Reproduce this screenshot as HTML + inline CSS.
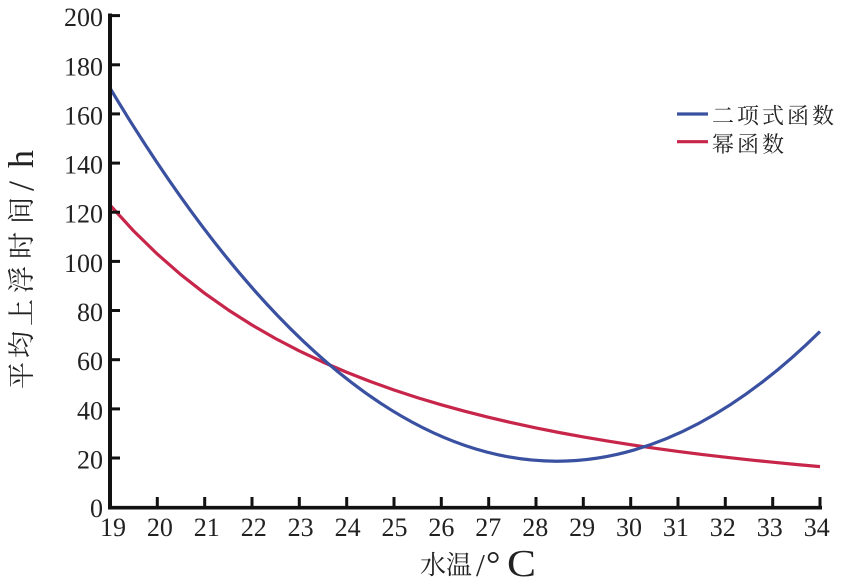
<!DOCTYPE html>
<html>
<head>
<meta charset="utf-8">
<style>
html,body{margin:0;padding:0;background:#fff;}
svg{display:block;}
</style>
</head>
<body>
<svg width="848" height="583" viewBox="0 0 848 583" xmlns="http://www.w3.org/2000/svg">
  <rect width="848" height="583" fill="#fff"/>

  <!-- curves in data coordinates -->
  <g transform="translate(110,507.2) scale(47.333,-2.458) translate(-19,0)" fill="none" stroke-linejoin="round" stroke-linecap="butt">
    <polyline vector-effect="non-scaling-stroke" stroke="#c7264a" stroke-width="3.2"
      points="19,122.9 19.5,112.37 20,102.97 20.5,94.56 21,87.02 21.5,80.23 22,74.11 22.5,68.58 23,63.58 23.5,59.03 24,54.89 24.5,51.12 25,47.68 25.5,44.53 26,41.65 26.5,39.00 27,36.56 27.5,34.32 28,32.25 28.5,30.34 29,28.57 29.5,26.94 30,25.42 30.5,24.01 31,22.70 31.5,21.48 32,20.35 32.5,19.29 33,18.30 33.5,17.37 34,16.51"/>
    <path vector-effect="non-scaling-stroke" stroke="#3a50a0" stroke-width="3.2" d="M19,170.5 Q26.5,-70.8 34,71.5"/>
  </g>

  <!-- axes -->
  <g stroke="#111" fill="none">
    <line x1="110" y1="13.5" x2="110" y2="509.5" stroke-width="4"/>
    <line x1="108" y1="507.7" x2="822" y2="507.7" stroke-width="3.6"/>
    <!-- y ticks -->
    <g stroke-width="3">
      <line x1="110" y1="15.6" x2="120" y2="15.6"/>
      <line x1="110" y1="64.8" x2="120" y2="64.8"/>
      <line x1="110" y1="113.9" x2="120" y2="113.9"/>
      <line x1="110" y1="163.1" x2="120" y2="163.1"/>
      <line x1="110" y1="212.2" x2="120" y2="212.2"/>
      <line x1="110" y1="261.4" x2="120" y2="261.4"/>
      <line x1="110" y1="310.5" x2="120" y2="310.5"/>
      <line x1="110" y1="359.7" x2="120" y2="359.7"/>
      <line x1="110" y1="408.9" x2="120" y2="408.9"/>
      <line x1="110" y1="458.0" x2="120" y2="458.0"/>
    </g>
    <!-- x ticks -->
    <g stroke-width="3">
      <line x1="157.3" y1="497" x2="157.3" y2="507"/>
      <line x1="204.7" y1="497" x2="204.7" y2="507"/>
      <line x1="252.0" y1="497" x2="252.0" y2="507"/>
      <line x1="299.3" y1="497" x2="299.3" y2="507"/>
      <line x1="346.7" y1="497" x2="346.7" y2="507"/>
      <line x1="394.0" y1="497" x2="394.0" y2="507"/>
      <line x1="441.3" y1="497" x2="441.3" y2="507"/>
      <line x1="488.7" y1="497" x2="488.7" y2="507"/>
      <line x1="536.0" y1="497" x2="536.0" y2="507"/>
      <line x1="583.3" y1="497" x2="583.3" y2="507"/>
      <line x1="630.7" y1="497" x2="630.7" y2="507"/>
      <line x1="678.0" y1="497" x2="678.0" y2="507"/>
      <line x1="725.3" y1="497" x2="725.3" y2="507"/>
      <line x1="772.7" y1="497" x2="772.7" y2="507"/>
      <line x1="820.0" y1="497" x2="820.0" y2="507"/>
    </g>
  </g>

  <!-- y tick labels -->
  <g font-family="'Liberation Serif', serif" font-size="26" fill="#222" text-anchor="end">
    <text x="103" y="26.1">200</text>
    <text x="103" y="75.3">180</text>
    <text x="103" y="124.4">160</text>
    <text x="103" y="173.6">140</text>
    <text x="103" y="222.7">120</text>
    <text x="103" y="271.9">100</text>
    <text x="103" y="321.0">80</text>
    <text x="103" y="370.2">60</text>
    <text x="103" y="419.4">40</text>
    <text x="103" y="468.5">20</text>
    <text x="103" y="517.2">0</text>
  </g>

  <!-- x tick labels -->
  <g font-family="'Liberation Serif', serif" font-size="26" fill="#222" text-anchor="middle">
    <text x="113.0" y="536">19</text>
    <text x="159.9" y="536">20</text>
    <text x="206.8" y="536">21</text>
    <text x="253.7" y="536">22</text>
    <text x="300.6" y="536">23</text>
    <text x="347.6" y="536">24</text>
    <text x="394.5" y="536">25</text>
    <text x="441.4" y="536">26</text>
    <text x="488.3" y="536">27</text>
    <text x="535.2" y="536">28</text>
    <text x="582.1" y="536">29</text>
    <text x="629.0" y="536">30</text>
    <text x="675.9" y="536">31</text>
    <text x="722.8" y="536">32</text>
    <text x="769.7" y="536">33</text>
    <text x="816.7" y="536">34</text>
  </g>

  <!-- x axis title -->
  <text x="420" y="574" font-family="'Liberation Serif', 'Noto Serif CJK SC', serif" font-size="26" fill="#222">水温</text>
  <text x="476" y="576" font-family="'Liberation Serif', serif" font-size="32" fill="#222">/</text>
  <text x="486" y="576" font-family="'Liberation Serif', serif" font-size="36" fill="#222">°</text>
  <text x="507" y="576" font-family="'Liberation Serif', serif" font-size="38" fill="#222" textLength="29" lengthAdjust="spacingAndGlyphs">C</text>

  <!-- y axis title -->
  <g transform="translate(31,388) rotate(-90)" fill="#222">
    <text y="0" font-family="'Liberation Serif', 'Noto Serif CJK SC', serif" font-size="27">
      <tspan x="-1">平</tspan><tspan x="30">均</tspan><tspan x="62">上</tspan><tspan x="95">浮</tspan><tspan x="129">时</tspan><tspan x="164">间</tspan>
    </text>
  </g>
  <g transform="translate(33,388) rotate(-90)" fill="#222">
    <text y="0" font-family="'Liberation Serif', serif" font-size="36">
      <tspan x="197">/</tspan><tspan x="220">h</tspan>
    </text>
  </g>

  <!-- legend -->
  <line x1="677" y1="114" x2="708" y2="114" stroke="#3a50a0" stroke-width="3.2"/>
  <line x1="677" y1="141.7" x2="708" y2="141.7" stroke="#c7264a" stroke-width="3.2"/>
  <g font-family="'Liberation Serif', 'Noto Serif CJK SC', serif" font-size="22" fill="#222" letter-spacing="3">
    <text x="712" y="123.5">二项式函数</text>
    <text x="712" y="152">幂函数</text>
  </g>
</svg>
</body>
</html>
